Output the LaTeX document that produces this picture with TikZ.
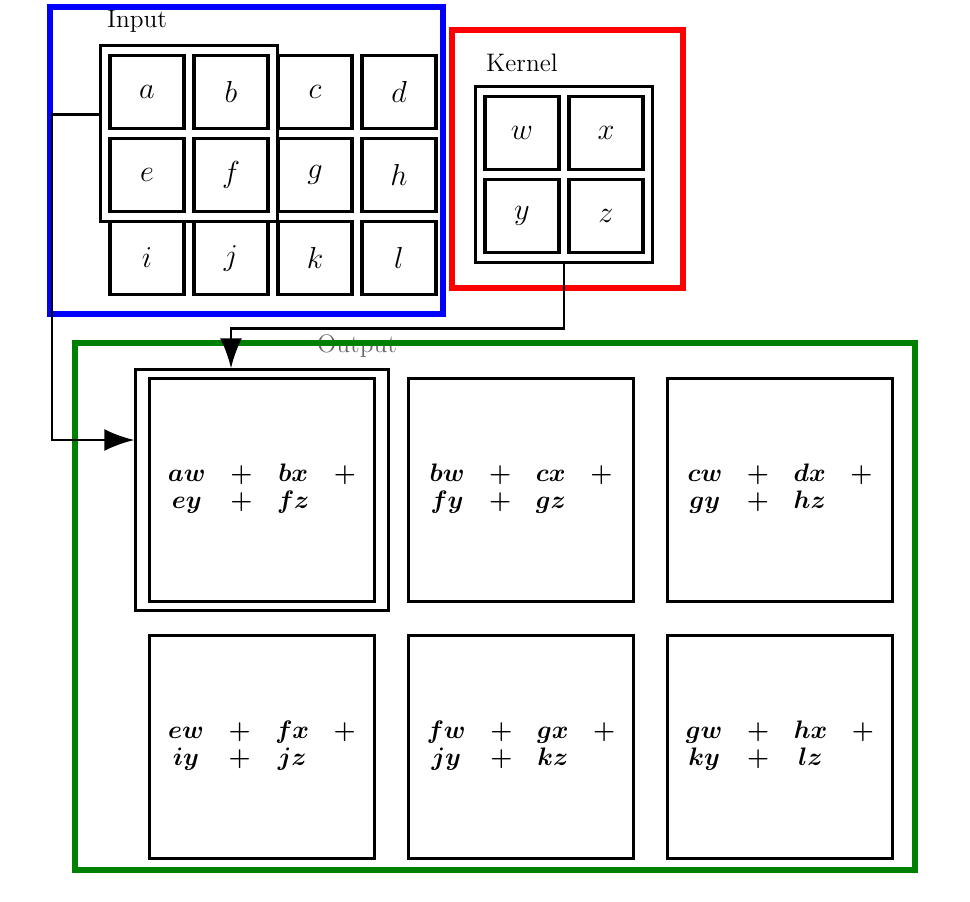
\documentclass[tikz,border=0pt]{standalone}
\usepackage{bm}
\usetikzlibrary{fit,arrows.meta}
\begin{document}
\begin{tikzpicture}[x=0.02cm,y=-0.02cm,
  cell/.style={draw,line width=1.8pt,minimum width=1.48cm,minimum height=1.47cm,inner sep=0pt,font=\LARGE},
  group/.style={draw,line width=1.4pt,inner sep=0.16cm},
  ocell/.style={draw,line width=1.7pt,minimum width=4.5cm,minimum height=4.48cm,inner sep=0pt,font=\Large},
  frame/.style={line width=3.4pt},
  conn/.style={line width=1.4pt,-{Latex[length=6mm,width=4.4mm]}}]
  \useasboundingbox (0,0) rectangle (970,902);
  % labels
  \node[font=\Large] (inlbl) at (137,21) {Input};
  \node[font=\Large] (klbl) at (522,63) {Kernel};
  \node[font=\Large,text=black!60] (outlbl) at (357,346) {Output};
  % frames
  \draw[frame,blue] (50,7) rectangle (443,314);
  \draw[frame,red] (452,30) rectangle (683,288);
  \draw[frame,green!50!black] (75,343) rectangle (915,870);
  % input
  \foreach \i/\j/\v in {0/0/a, 0/1/b, 0/2/c, 0/3/d,
                        1/0/e, 1/1/f, 1/2/g, 1/3/h,
                        2/0/i, 2/1/j, 2/2/k, 2/3/l}{
    \node[cell] (in-\v) at ({147+84*\j},{92+83*\i}) {\(\v\)};}
  \node[group,fit=(in-a)(in-f)] (ingrp) {};
  % kernel
  \foreach \i/\j/\v in {0/0/w, 0/1/x, 1/0/y, 1/1/z}{
    \node[cell] (k-\v) at ({522+84*\j},{133+83*\i}) {\(\v\)};}
  \node[group,fit=(k-w)(k-z)] (kgrp) {};
  % output
  \foreach \i/\j/\p/\q/\r/\s in {0/0/aw/bx/ey/fz, 0/1/bw/cx/fy/gz, 0/2/cw/dx/gy/hz,
                                  1/0/ew/fx/iy/jz, 1/1/fw/gx/jy/kz, 1/2/gw/hx/ky/lz}{
    \node[ocell] (out-\i-\j) at ({262+259*\j},{490+257*\i})
      {\(\arraycolsep=7pt\renewcommand\arraystretch{0.85}\begin{array}{cccc}
         \bm{\p} & \bm{+} & \bm{\q} & \bm{+} \\
         \bm{\r} & \bm{+} & \bm{\s} &
       \end{array}\)};}
  \node[group,inner xsep=0.25cm,inner ysep=0.14cm,fit=(out-0-0)] (outgrp) {};
  % connectors
  \draw[conn] ([yshift=0.38cm]ingrp.west) -- ++(-47,0) |- ([yshift=1cm]outgrp.west);
  \draw[conn] (kgrp.south) -- ++(0,65) -| ([xshift=-0.62cm]outgrp.north);
\end{tikzpicture}
\end{document}
